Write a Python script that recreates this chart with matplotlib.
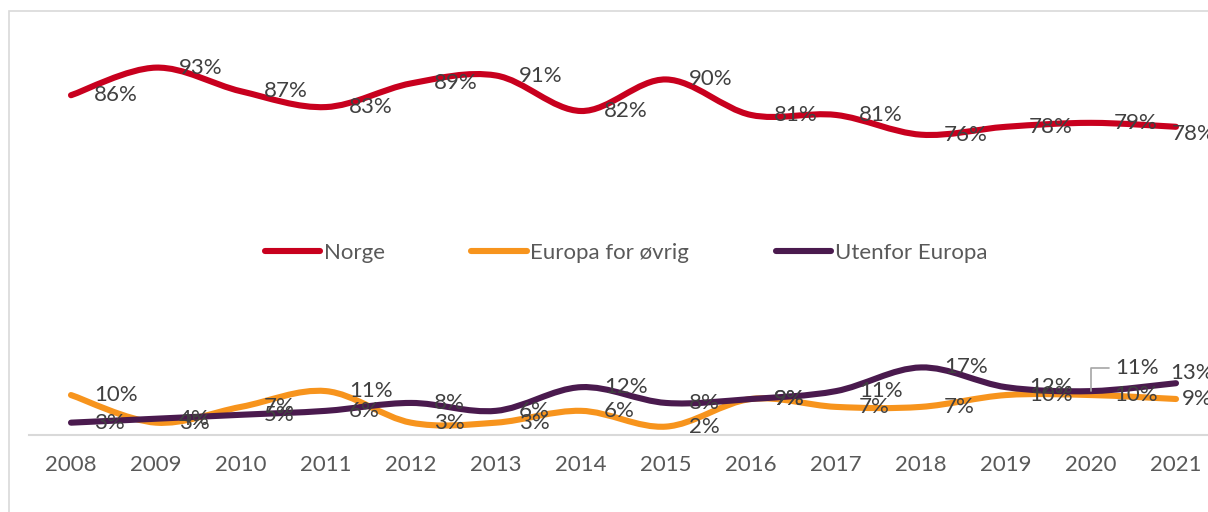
import numpy as np
import matplotlib
matplotlib.use("Agg")
import matplotlib.pyplot as plt
from matplotlib.path import Path
from matplotlib.patches import PathPatch, Rectangle
from matplotlib.lines import Line2D

plt.rcParams["font.family"] = ["Lato", "DejaVu Sans"]

# data (andel i %)
years = ["2008", "2009", "2010", "2011", "2012", "2013", "2014",
         "2015", "2016", "2017", "2018", "2019", "2020", "2021"]
norge = [86, 93, 87, 83, 89, 91, 82, 90, 81, 81, 76, 78, 79, 78]
europa = [10, 3, 7, 11, 3, 3, 6, 2, 9, 7, 7, 10, 10, 9]
utenfor = [3, 4, 5, 6, 8, 6, 12, 8, 9, 11, 17, 12, 11, 13]

series = [
    ("Norge", norge, "#C8001E"),
    ("Europa for øvrig", europa, "#F7941D"),
    ("Utenfor Europa", utenfor, "#4A1A4E"),
]

PX = 0.72  # 1 px in points at dpi=100
FS = 16

# manual label nudges (px): (dx, dy, ha, leader)
label_tweaks = {
    ("Norge", 13): (-4, -7, "left", False),
    ("Utenfor Europa", 12): (24, 23, "left", True),
    ("Utenfor Europa", 13): (-6, 10, "left", False),
    ("Europa for øvrig", 13): (6, 0, "left", False),
}


def smooth_path(x, y):
    # Excel-lignende glatting (Catmull-Rom via Bezier)
    pts = np.column_stack([x, y]).astype(float)
    n = len(pts)
    verts = [pts[0]]
    codes = [Path.MOVETO]
    for i in range(n - 1):
        p0 = pts[max(i - 1, 0)]
        p1 = pts[i]
        p2 = pts[i + 1]
        p3 = pts[min(i + 2, n - 1)]
        verts += [p1 + (p2 - p0) / 6, p2 - (p3 - p1) / 6, p2]
        codes += [Path.CURVE4] * 3
    return Path(verts, codes)


fig = plt.figure(figsize=(12.08, 5.12), dpi=100)
ax = fig.add_axes([28.5 / 1208, (512 - 434.5) / 512, 1190 / 1208, 394.5 / 512])

x = np.arange(len(years))
handles = []
for name, vals, col in series:
    patch = PathPatch(smooth_path(x, vals), fill=False, edgecolor=col, lw=4.4,
                      capstyle="round", joinstyle="round", zorder=3)
    ax.add_patch(patch)
    handles.append(Line2D([], [], color=col, lw=4.4, solid_capstyle="round", label=name))
    for i, v in enumerate(vals):
        dx, dy, ha, leader = label_tweaks.get((name, i), (23, 0, "left", False))
        kw = {}
        if leader:
            kw["arrowprops"] = dict(arrowstyle="-", color="#A6A6A6", lw=1.2,
                                    connectionstyle="angle,angleA=0,angleB=90,rad=0",
                                    shrinkA=2, shrinkB=0)
        ax.annotate(f"{v}%", (i, v), xytext=(dx * PX, dy * PX), textcoords="offset points",
                    ha=ha, va="center", fontsize=FS, color="#404040", zorder=4, **kw)

ax.set_xlim(-0.5, len(years) - 0.5)
ax.set_ylim(0, 100)
ax.set_xticks(x)
ax.set_xticklabels(years)
ax.tick_params(axis="x", length=0, pad=15, labelsize=FS, labelcolor="#595959")
ax.set_yticks([])
for s in ["top", "right", "left"]:
    ax.spines[s].set_visible(False)
ax.spines["bottom"].set_color("#D9D9D9")
ax.spines["bottom"].set_linewidth(1.5)

leg = ax.legend(handles=handles, loc="center", bbox_to_anchor=(0.502, 0.46), ncol=3,
                frameon=False, fontsize=FS, handlelength=2.5, handletextpad=0.15,
                columnspacing=3.9)
for t in leg.get_texts():
    t.set_color("#595959")

# chart-ramme
fig.patches.append(Rectangle((9 / 1208, -0.1), 1.2, (512 - 11) / 512 + 0.1,
                             transform=fig.transFigure, fill=False,
                             edgecolor="#D9D9D9", lw=1.2))

fig.savefig("out.png", dpi=100)
